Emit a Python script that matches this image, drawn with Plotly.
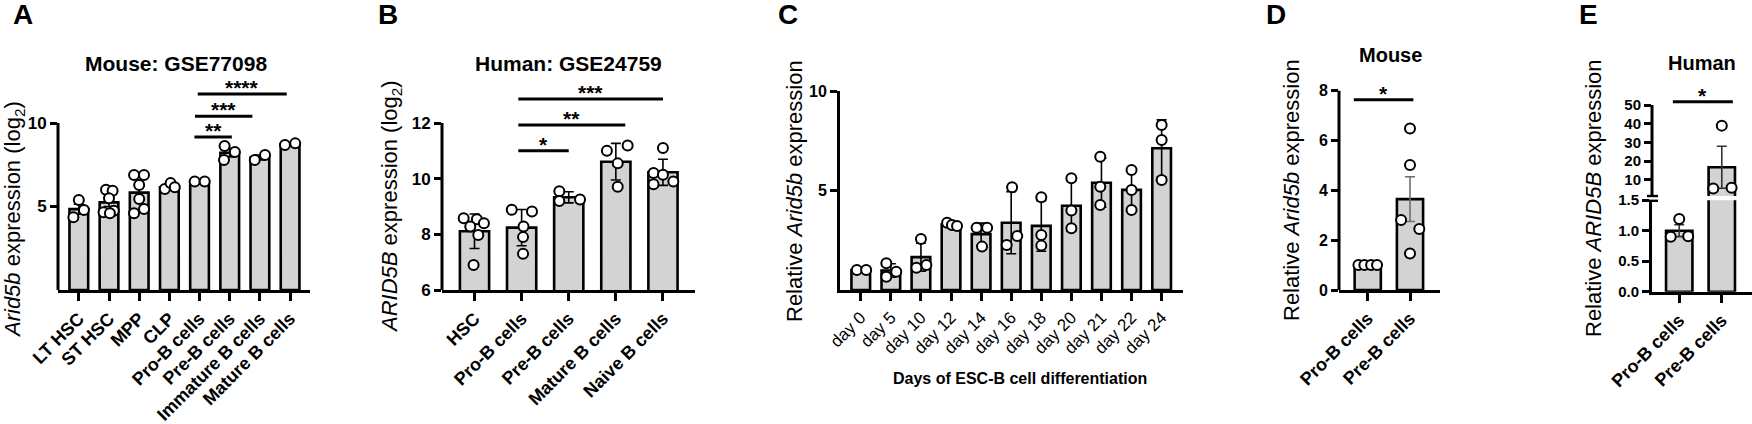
import plotly.graph_objects as go

W, H = 1752, 424
FONT = "Liberation Sans, Arial, sans-serif"


def fx(px):
    return px / W


def fy(py):
    return 1 - py / H


# ---------------- DATA ----------------
# Panel A  (Mouse: GSE77098)
A_cats = ["LT HSC", "ST HSC", "MPP", "CLP", "Pro-B cells", "Pre-B cells",
          "Immature B cells", "Mature B cells"]
A_means = [4.84, 5.25, 5.83, 6.15, 6.5, 8.22, 7.93, 8.73]
A_err = [0.30, 0.25, 0.40, 0.10, 0.02, 0.25, 0.15, 0.05]
A_points = [[5.39, 4.79, 4.35],
            [6.0, 5.95, 5.5, 4.75, 4.65, 4.6],
            [6.89, 6.89, 6.29, 5.45, 4.85, 4.59],
            [6.05, 6.4, 6.15],
            [6.5, 6.5],
            [8.62, 8.26, 7.78],
            [7.78, 8.08],
            [8.68, 8.78]]
A_sig = [(3.83, 5.07, 9.16, "**"), (3.85, 5.75, 10.4, "***"),
         (3.94, 6.89, 11.74, "****")]

# Panel B  (Human: GSE24759)
B_cats = ["HSC", "Pro-B cells", "Pre-B cells", "Mature B cells", "Naive B cells"]
B_means = [8.11, 8.24, 9.33, 10.61, 10.23]
B_err = [0.62, 0.65, 0.20, 0.66, 0.47]
B_points = [[8.58, 8.54, 8.4, 8.28, 7.98, 6.9],
            [8.88, 8.82, 8.28, 7.9, 7.3],
            [9.55, 9.2, 9.25],
            [11.0, 10.55, 9.71, 11.19],
            [11.1, 10.2, 10.14, 9.9, 9.8]]
B_sig = [(0.93, 2.0, 11.0, "*"), (0.93, 3.2, 11.93, "**"), (0.93, 4.0, 12.86, "***")]

# Panel C  (ESC-B differentiation)
C_cats = ["day 0", "day 5", "day 10", "day 12", "day 14", "day 16", "day 18",
          "day 20", "day 21", "day 22", "day 24"]
C_means = [1.0, 0.98, 1.65, 3.29, 2.81, 3.38, 3.22, 4.23, 5.39, 5.03, 7.12]
C_err = [0.02, 0.34, 0.70, 0.08, 0.55, 1.56, 1.27, 1.27, 1.23, 1.0, 1.43]
C_points = [[1.0, 1.0],
            [1.34, 0.67, 0.92],
            [2.56, 1.12, 1.26],
            [3.38, 3.27, 3.22],
            [3.13, 3.13, 2.18],
            [5.16, 2.26, 2.71],
            [4.66, 2.76, 2.23],
            [5.61, 3.99, 3.10],
            [6.7, 5.19, 4.27],
            [6.03, 5.03, 4.02],
            [8.29, 7.54, 5.53]]

# Panel D  (Mouse)
D_cats = ["Pro-B cells", "Pre-B cells"]
D_means = [1.0, 3.65]
D_err = [0.02, 0.90]
D_points = [[1.0, 1.0, 1.0, 1.0], [6.49, 5.02, 2.81, 2.45, 1.47]]
D_sig = [(-0.33, 1.08, 7.64, "*")]

# Panel E  (Human, broken axis)
E_cats = ["Pro-B cells", "Pre-B cells"]
E_means = [1.0, 16.77]
E_err = [0.097, 11.2]
E_points = [[1.19, 0.9, 0.91], [39.0, 5.5, 5.8]]
E_sig = [(-0.15, 1.26, 51.8, "*")]

# -------- point jitter (horizontal offsets, category units) --------
A_jit = [[0, 0.17, -0.18], [-0.1, 0.12, 0.0, 0.16, -0.18, 0.03],
         [-0.17, 0.16, 0, 0, 0.16, -0.17], [-0.15, 0.04, 0.18], [-0.16, 0.17],
         [-0.17, 0.17, -0.19], [-0.17, 0.17], [-0.17, 0.17]]
B_jit = [[-0.23, 0.05, 0.2, -0.09, 0.08, -0.02], [-0.21, 0.22, 0.04, 0.03, 0.03],
         [-0.2, -0.2, 0.24], [-0.19, 0.04, 0.04, 0.25], [0, -0.2, 0, 0.22, -0.2]]
C_jit = [[-0.13, 0.18], [-0.15, -0.15, 0.18], [0, -0.15, 0.18], [-0.13, 0.03, 0.2],
         [-0.15, 0.2, 0.03], [0.03, -0.15, 0.2], [0, 0, 0], [0, 0, 0],
         [-0.04, -0.04, -0.04], [0, 0, 0], [0, 0, 0]]
D_jit = [[-0.22, -0.08, 0.08, 0.22], [0, 0, -0.21, 0.22, 0]]
E_jit = [[0, -0.2, 0.21], [0, -0.2, 0.23]]

# ---------------- FIGURE ----------------
fig = go.Figure()

BAR_FILL = "#d3d3d3"
BAR_W = 0.62


def add_panel(xa, ya, cats, means, err, points, jit, err_color="black", idx=None):
    if idx is None:
        idx = list(range(len(cats)))
    fig.add_trace(go.Bar(
        x=idx, y=[means[i] for i in idx], width=BAR_W, xaxis=xa, yaxis=ya,
        marker=dict(color=BAR_FILL, line=dict(color="black", width=2.6)),
        error_y=dict(type="data", array=[err[i] for i in idx], color=err_color,
                     thickness=1.6, width=5),
        showlegend=False, hoverinfo="skip"))
    px_, py_ = [], []
    for i in idx:
        for v, j in zip(points[i], jit[i]):
            px_.append(i + j)
            py_.append(v)
    fig.add_trace(go.Scatter(
        x=px_, y=py_, mode="markers", xaxis=xa, yaxis=ya,
        marker=dict(size=10, color="white", line=dict(color="black", width=2)),
        showlegend=False, hoverinfo="skip"))


add_panel("x", "y", A_cats, A_means, A_err, A_points, A_jit)
add_panel("x2", "y2", B_cats, B_means, B_err, B_points, B_jit)
add_panel("x3", "y3", C_cats, C_means, C_err, C_points, C_jit)
add_panel("x4", "y4", D_cats, D_means, D_err, D_points, D_jit, err_color="#6e6e6e")
add_panel("x5", "y5", E_cats, E_means, E_err, E_points, E_jit, err_color="#333333", idx=[0, 1])
add_panel("x5", "y6", E_cats, E_means, E_err, E_points, E_jit, err_color="#333333", idx=[1])

cat_bold = dict(family=FONT, size=18, color="black", weight="bold")
cat_norm = dict(family=FONT, size=17, color="black")
ytick17 = dict(family=FONT, size=17, color="black", weight="bold")
ytick16 = dict(family=FONT, size=16, color="black", weight="bold")
ytick15 = dict(family=FONT, size=15, color="black", weight="bold")


def xax(dom_px, rng, cats, font, anchor):
    return dict(domain=[fx(dom_px[0]), fx(dom_px[1])], range=rng, anchor=anchor,
                tickvals=list(range(len(cats))), ticktext=cats, tickangle=-45,
                tickfont=font, showline=True, linewidth=3, linecolor="black",
                ticks="outside", ticklen=8, tickwidth=2.6, tickcolor="black",
                showgrid=False, zeroline=False, fixedrange=True, automargin=False)


def yax(dom_px, rng, tv, tt, anchor, font, showline=False):
    return dict(domain=[fy(dom_px[0]), fy(dom_px[1])], range=rng, anchor=anchor,
                tickvals=tv, ticktext=tt, tickfont=font,
                showline=showline, linewidth=3, linecolor="black",
                ticks="outside", ticklen=7, tickwidth=2.6, tickcolor="black",
                showgrid=False, zeroline=False, fixedrange=True, automargin=False)


# pixel geometry of each panel
A_x = (58, 310); A_ppu = 16.7; A_top = 12.8
B_x = (442, 695); B_ppu = 27.83; B_top = 13.6
C_x = (840, 1183); C_ppu = 19.9
D_x = (1339, 1440); D_ppu = 24.9; D_top = 8.9
E_x = (1652, 1752)
E_lo = (291.7, 200.2)
E_hi_ppu = 1.874; E_hi_bot = 195.9; E_top = 58

fig.update_layout(
    template="none",
    xaxis=xax(A_x, [-0.69, 7.66], A_cats, cat_bold, "y"),
    yaxis=yax((290, 290 - A_top * A_ppu), [0, A_top], [5, 10], ["5", "10"], "x", ytick17),
    xaxis2=xax(B_x, [-0.69, 4.68], B_cats, cat_bold, "y2"),
    yaxis2=yax((290, 290 - (B_top - 6) * B_ppu), [6, B_top], [6, 8, 10, 12],
               ["6", "8", "10", "12"], "x2", ytick17),
    xaxis3=xax(C_x, [-0.69, 10.71], C_cats, cat_norm, "y3"),
    yaxis3=yax((290, 290 - 10 * C_ppu), [0, 10], [5, 10], ["5", "10"], "x3", ytick16,
               showline=True),
    xaxis4=xax(D_x, [-0.68, 1.71], D_cats, cat_bold, "y4"),
    yaxis4=yax((290, 290 - D_top * D_ppu), [0, D_top], [0, 2, 4, 6, 8],
               ["0", "2", "4", "6", "8"], "x4", ytick16),
    xaxis5=xax(E_x, [-0.64, 1.71], E_cats, cat_bold, "y5"),
    yaxis5=yax(E_lo, [0, 1.5], [0, 0.5, 1.0, 1.5], ["0.0", "0.5", "1.0", "1.5"], "x5",
               ytick15, showline=True),
    yaxis6=yax((E_hi_bot, E_hi_bot - (E_top - 1.5) * E_hi_ppu), [1.5, E_top],
               [10, 20, 30, 40, 50], ["10", "20", "30", "40", "50"], "x5", ytick15),
    width=W, height=H, margin=dict(l=0, r=0, t=0, b=0, pad=0),
    paper_bgcolor="white", plot_bgcolor="white",
    font=dict(family=FONT, color="black"), showlegend=False,
)

shapes = []
# y-axis lines drawn only up to the last labelled tick
for xpx, yref, y0, y1 in [(A_x[0], "y", 0, 10), (B_x[0], "y2", 6, 12),
                          (D_x[0], "y4", 0, 8), (E_x[0], "y6", 1.5, 50)]:
    shapes.append(dict(type="line", xref="paper", yref=yref, x0=fx(xpx), x1=fx(xpx),
                       y0=y0, y1=y1, line=dict(color="black", width=3)))
# axis break marks (panel E)
for ypx in (196.0, 200.8):
    shapes.append(dict(type="line", xref="paper", yref="paper",
                       x0=fx(E_x[0] - 5), x1=fx(E_x[0] + 6), y0=fy(ypx), y1=fy(ypx),
                       line=dict(color="black", width=2.4)))

annotations = []
# significance brackets
for xref, yref, sig in [("x", "y", A_sig), ("x2", "y2", B_sig), ("x4", "y4", D_sig),
                        ("x5", "y6", E_sig)]:
    for x0, x1, yv, lab in sig:
        shapes.append(dict(type="line", xref=xref, yref=yref, x0=x0, x1=x1, y0=yv, y1=yv,
                           line=dict(color="black", width=3)))
        annotations.append(dict(xref=xref, yref=yref, x=(x0 + x1) / 2, y=yv, text=lab,
                                showarrow=False, yanchor="bottom", yshift=-7,
                                font=dict(family=FONT, size=21, color="black", weight="bold")))

# titles
for txt, xpx, ypx, size in [("Mouse: GSE77098", 176, 63, 21), ("Human: GSE24759", 568, 63, 21),
                            ("Mouse", 1390, 55, 20), ("Human", 1702, 63, 20)]:
    annotations.append(dict(xref="paper", yref="paper", x=fx(xpx), y=fy(ypx), text=txt,
                            showarrow=False, xanchor="center", yanchor="middle",
                            font=dict(family=FONT, size=size, color="black", weight="bold")))

# panel letters
for txt, xpx in [("A", 23), ("B", 388), ("C", 788), ("D", 1276), ("E", 1588)]:
    annotations.append(dict(xref="paper", yref="paper", x=fx(xpx), y=fy(15), text=txt,
                            showarrow=False, xanchor="center", yanchor="middle",
                            font=dict(family=FONT, size=28, color="black", weight="bold")))

# y-axis titles
for txt, xpx, ypx in [("<i>Arid5b</i> expression (log<sub>2</sub>)", 14, 220),
                      ("<i>ARID5B</i> expression (log<sub>2</sub>)", 391, 207),
                      ("Relative <i>Arid5b</i> expression", 794, 191),
                      ("Relative <i>Arid5b</i> expression", 1291, 190),
                      ("Relative <i>ARID5B</i> expression", 1593, 198)]:
    annotations.append(dict(xref="paper", yref="paper", x=fx(xpx), y=fy(ypx), text=txt,
                            showarrow=False, textangle=-90, xanchor="center", yanchor="middle",
                            font=dict(family=FONT, size=22, color="black")))

# x-axis title panel C
annotations.append(dict(xref="paper", yref="paper", x=fx(1020), y=fy(378),
                        text="Days of ESC-B cell differentiation", showarrow=False,
                        xanchor="center", yanchor="middle",
                        font=dict(family=FONT, size=16, color="black", weight="bold")))

fig.update_layout(shapes=shapes, annotations=annotations)
fig.write_html("out.html", config={"displayModeBar": False},
               post_script="document.body.style.margin='0';"
                           "document.body.style.overflow='hidden';")
